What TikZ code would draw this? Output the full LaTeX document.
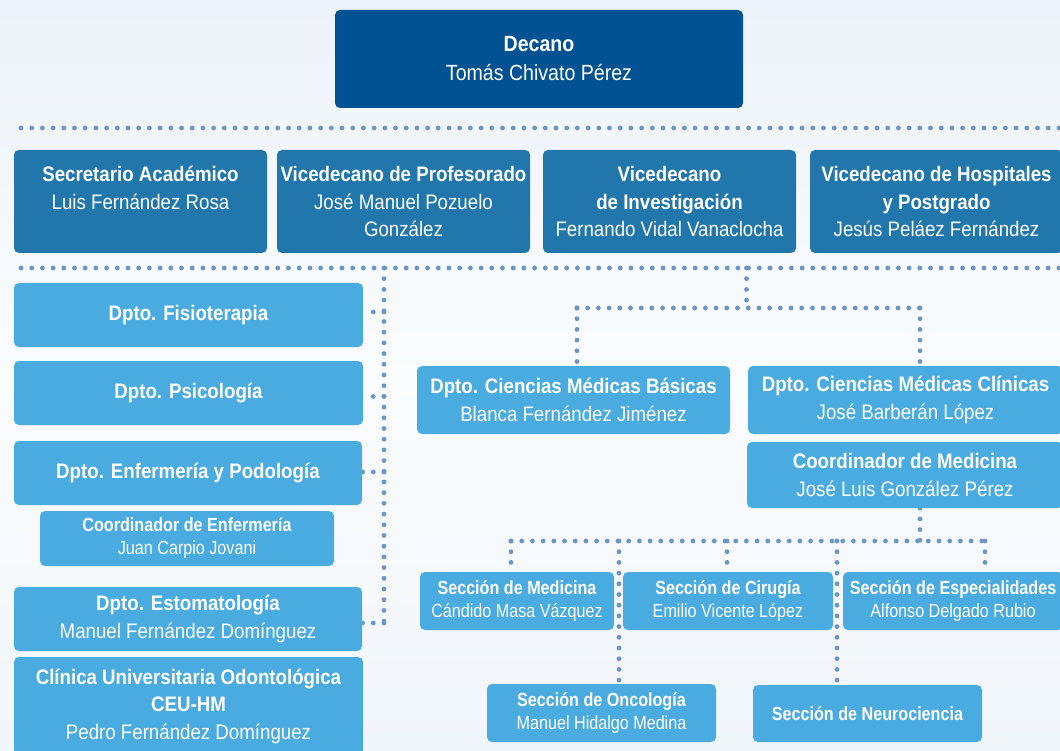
\documentclass[tikz,border=0pt]{standalone}
\usepackage{fontspec}
\newfontfamily\mainf{Liberation Sans}[FakeStretch=0.89]
\newfontfamily\narrowf{Liberation Sans}[FakeStretch=0.85]
\definecolor{deanblue}{RGB}{0,82,146}
\definecolor{vblue}{RGB}{33,118,171}
\definecolor{lblue}{RGB}{73,171,223}
\definecolor{dotblue}{RGB}{108,149,198}
\definecolor{bgtop}{RGB}{237,243,250}
\definecolor{bgmid}{RGB}{250,252,254}
\definecolor{bgbot}{RGB}{241,246,251}
\pgfdeclarelayer{bg}
\pgfdeclarelayer{lines}
\pgfsetlayers{bg,lines,main}
\begin{document}
\begin{tikzpicture}[x=1pt,y=-1pt,
 box/.style={rectangle, rounded corners=5pt, inner sep=0pt, text=white, align=center,
   font=\mainf\fontsize{21}{27.5}\selectfont},
 dean/.style={box, fill=deanblue, font=\mainf\fontsize{22}{29}\selectfont},
 vice/.style={box, fill=vblue, minimum width=253pt, minimum height=103pt},
 dept/.style={box, fill=lblue},
 sect/.style={box, fill=lblue, font=\narrowf\fontsize{19}{23}\selectfont},
 dotline/.style={draw=dotblue, line width=4.8pt, line cap=round, dash pattern=on 0pt off 10.7pt}]
\useasboundingbox (0,0) rectangle (1060,751);
\clip (0,0) rectangle (1060,751);
\begin{pgfonlayer}{bg}
\fill[top color=bgtop, bottom color=bgbot, middle color=bgmid] (0,0) rectangle (1060,751);
\end{pgfonlayer}

% top
\node[dean, minimum width=408pt, minimum height=98pt] (dec) at (539,59) {\textbf{Decano}\\Tomás Chivato Pérez};

% row 2
\node[vice] (sec) at (140.5,201.5) {\textbf{Secretario Académico}\\Luis Fernández Rosa\\\mbox{}};
\node[vice] (prof) at (403.5,201.5) {\textbf{Vicedecano de Profesorado}\\José Manuel Pozuelo\\González};
\node[vice] (inv) at (669.5,201.5) {\textbf{Vicedecano}\\\textbf{de Investigación}\\Fernando Vidal Vanaclocha};
\node[vice] (hosp) at (936.5,201.5) {\textbf{Vicedecano de Hospitales}\\\textbf{y Postgrado}\\Jesús Peláez Fernández};

% left column
\node[dept, minimum width=349pt, minimum height=64pt] (fisio) at (188.5,315) {\textbf{Dpto. Fisioterapia}};
\node[dept, minimum width=349pt, minimum height=64pt] (psico) at (188.5,393) {\textbf{Dpto. Psicología}};
\node[dept, minimum width=348pt, minimum height=64pt] (enf) at (188,473) {\textbf{Dpto. Enfermería y Podología}};
\node[sect, minimum width=294pt, minimum height=55pt] (coenf) at (187,538.5) {\textbf{Coordinador de Enfermería}\\Juan Carpio Jovani};
\node[dept, minimum width=348pt, minimum height=64pt] (esto) at (188,619) {\textbf{Dpto. Estomatología}\\Manuel Fernández Domínguez};
\node[dept, minimum width=349pt, minimum height=98pt] (clin) at (188.5,706) {\textbf{Clínica Universitaria Odontológica}\\\textbf{CEU-HM}\\Pedro Fernández Domínguez};

% middle / right
\node[dept, minimum width=313pt, minimum height=68pt] (basic) at (573.5,400) {\textbf{Dpto. Ciencias Médicas Básicas}\\Blanca Fernández Jiménez};
\node[dept, minimum width=315pt, minimum height=68pt] (clinic) at (905.5,400) {\textbf{Dpto. Ciencias Médicas Clínicas}\\José Barberán López};
\node[dept, minimum width=316pt, minimum height=66pt] (comed) at (905,475) {\textbf{Coordinador de Medicina}\\José Luis González Pérez};

% sections
\node[sect, minimum width=194pt, minimum height=58pt] (smed) at (517,601) {\textbf{Sección de Medicina}\\Cándido Masa Vázquez};
\node[sect, minimum width=210pt, minimum height=58pt] (scir) at (728,601) {\textbf{Sección de Cirugía}\\Emilio Vicente López};
\node[sect, minimum width=220pt, minimum height=58pt] (sesp) at (953,601) {\textbf{Sección de Especialidades}\\Alfonso Delgado Rubio};
\node[sect, minimum width=229pt, minimum height=58pt] (sonc) at (601.5,713) {\textbf{Sección de Oncología}\\Manuel Hidalgo Medina};
\node[sect, minimum width=229pt, minimum height=57pt] (sneu) at (867.5,713.5) {\textbf{Sección de Neurociencia}};

% junction coordinates
\coordinate (h1a) at (21,128); \coordinate (h1b) at (1065,128);
\coordinate (h2a) at (21,268); \coordinate (h2b) at (1065,268);
\coordinate (vlTop) at (384,268); \coordinate (vlBot) at (384,623);
\coordinate (fisioS) at ([yshift=3pt]fisio.east);
\coordinate (psicoS) at ([yshift=-3.5pt]psico.east);
\coordinate (enfS) at ([yshift=1pt]enf.east);
\coordinate (estoS) at ([yshift=-4pt]esto.east);
\coordinate (jm) at (746.5,268); \coordinate (jm2) at (746.5,308);
\coordinate (bL) at (577,308); \coordinate (bR) at (920,308);
\coordinate (sJ) at (920,541); \coordinate (sL) at (511,541); \coordinate (sR) at (985,541);
\coordinate (sOnc) at (619,541); \coordinate (sCir) at (727,541); \coordinate (sNeu) at (837,541);

\begin{pgfonlayer}{lines}
\draw[dotline] (h1a) -- (h1b);
\draw[dotline] (h2a) -- (h2b);
\draw[dotline] (vlTop) -- (vlBot);
\draw[dotline] (fisioS -| vlTop) -- (fisioS);
\draw[dotline] (psicoS -| vlTop) -- (psicoS);
\draw[dotline] (enfS -| vlTop) -- (enfS);
\draw[dotline] (estoS -| vlTop) -- (estoS);
\draw[dotline] (jm) -- (jm2);
\draw[dotline] (bL) -- (bR);
\draw[dotline] (bL) -- (bL |- basic.north);
\draw[dotline] (bR) -- (bR |- clinic.north);
\draw[dotline] (sJ |- comed.south) -- (sJ);
\draw[dotline] (sL) -- (sR);
\draw[dotline] (sL) -- (sL |- smed.north);
\draw[dotline] (sOnc) -- (sOnc |- sonc.north);
\draw[dotline] (sCir) -- (sCir |- scir.north);
\draw[dotline] (sNeu) -- (sNeu |- sneu.north);
\draw[dotline] (sR) -- (sR |- sesp.north);
\end{pgfonlayer}
\end{tikzpicture}
\end{document}
